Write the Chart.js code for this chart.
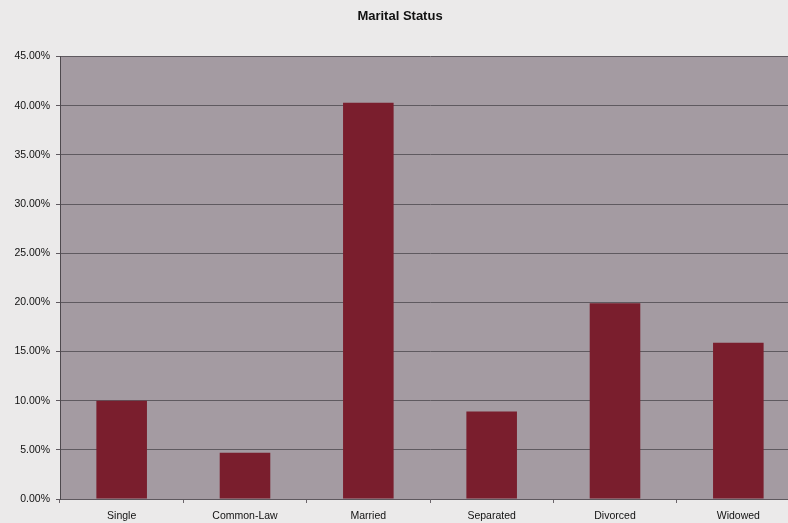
<!DOCTYPE html>
<html>
<head>
<meta charset="utf-8">
<title>Marital Status</title>
<script src="https://cdn.jsdelivr.net/npm/chart.js@4/dist/chart.umd.min.js"></script>
<style>
  html, body { margin: 0; padding: 0; background: #ebeaea; overflow: hidden; }
  #wrap { width: 788px; height: 523px; overflow: hidden; }
</style>
</head>
<body>
<div id="wrap">
  <canvas id="maritalChart" width="801" height="523"></canvas>
</div>
<script>
// Categories and shares (percent)
var statusLabels = ['Single', 'Common-Law', 'Married', 'Separated', 'Divorced', 'Widowed'];
var statusShares = [10.0, 4.7, 40.3, 8.9, 19.9, 15.9];
var yTicks = [0, 5, 10, 15, 20, 25, 30, 35, 40, 45];

// Grey fill behind the bars
var plotBackground = {
  id: 'plotBackground',
  beforeDraw: function (chart) {
    var a = chart.chartArea;
    var ctx = chart.ctx;
    ctx.save();
    ctx.fillStyle = '#a49ba2';
    ctx.fillRect(a.left, a.top, a.right - a.left, a.bottom - a.top);
    ctx.restore();
  }
};

var ctx = document.getElementById('maritalChart');
var maritalBar = new Chart(ctx, {
  type: 'bar',
  data: {
    labels: statusLabels,
    datasets: [{
      data: statusShares,
      backgroundColor: '#7a1e2d',
      borderWidth: 0,
      barPercentage: 0.41,
      categoryPercentage: 1.0
    }]
  },
  options: {
    responsive: false,
    animation: false,
    layout: { padding: { left: 0, right: 1, top: 0, bottom: 0 } },
    plugins: {
      legend: { display: false },
      tooltip: { enabled: false },
      title: {
        display: true,
        text: 'Marital Status',
        color: '#111',
        font: { family: 'Liberation Sans, Arial', size: 13, weight: 'bold' },
        padding: { top: 9, bottom: 32 }
      }
    },
    scales: {
      x: {
        offset: true,
        grid: {
          offset: true,
          drawOnChartArea: false,
          drawTicks: true,
          tickLength: 4,
          color: '#6a646a'
        },
        border: { color: '#5e585e', width: 1 },
        ticks: {
          color: '#111',
          padding: 7,
          font: { family: 'Liberation Sans, Arial', size: 10.5 }
        },
        afterFit: function (scale) { scale.height = 24; }
      },
      y: {
        min: 0,
        max: 45,
        afterBuildTicks: function (scale) {
          scale.ticks = yTicks.map(function (v) { return { value: v }; });
        },
        grid: {
          color: '#5f5a60',
          lineWidth: 1,
          tickLength: 4
        },
        border: { color: '#4e494e', width: 1 },
        ticks: {
          color: '#111',
          padding: 6,
          font: { family: 'Liberation Sans, Arial', size: 10.5 },
          callback: function (v) { return v.toFixed(2) + '%'; }
        },
        afterFit: function (scale) { scale.width = 60; }
      }
    }
  },
  plugins: [plotBackground]
});
</script>
</body>
</html>
